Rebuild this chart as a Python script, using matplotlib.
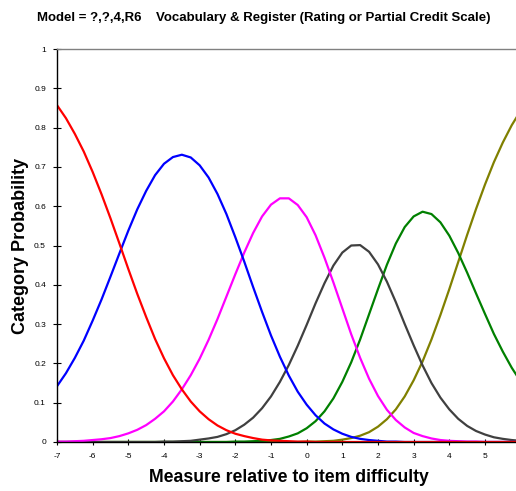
import matplotlib
matplotlib.use("Agg")
import matplotlib.pyplot as plt

plt.rcParams['font.family'] = ['Liberation Sans', 'DejaVu Sans']

## Category probability curves, every 0.25 logits
measure = [-7, -6.75, -6.5, -6.25, -6, -5.75, -5.5, -5.25, -5, -4.75, -4.5, -4.25, -4,
           -3.75, -3.5, -3.25, -3, -2.75, -2.5, -2.25, -2, -1.75, -1.5, -1.25, -1,
           -0.75, -0.5, -0.25, 0, 0.25, 0.5, 0.75, 1, 1.25, 1.5, 1.75, 2, 2.25, 2.5,
           2.75, 3, 3.25, 3.5, 3.75, 4, 4.25, 4.5, 4.75, 5, 5.25, 5.5, 5.75, 6]

cat0 = [0.857, 0.824, 0.784, 0.739, 0.687, 0.630, 0.569, 0.505, 0.440, 0.377, 0.318, 0.262, 0.213,
        0.170, 0.134, 0.103, 0.078, 0.058, 0.042, 0.030, 0.021, 0.015, 0.010, 0.006, 0.004,
        0.003, 0.002, 0.001, 0.001, 0.0, 0.0, 0.0, 0.0, 0.0, 0.0, 0.0, 0.0, 0.0, 0.0,
        0.0, 0.0, 0.0, 0.0, 0.0, 0.0, 0.0, 0.0, 0.0, 0.0, 0.0, 0.0, 0.0, 0.0]
cat1 = [0.142, 0.175, 0.214, 0.258, 0.309, 0.363, 0.421, 0.480, 0.538, 0.592, 0.639, 0.679, 0.708,
        0.725, 0.731, 0.724, 0.704, 0.673, 0.631, 0.580, 0.521, 0.459, 0.394, 0.331, 0.271,
        0.217, 0.169, 0.128, 0.095, 0.068, 0.047, 0.032, 0.021, 0.013, 0.008, 0.005, 0.003, 0.001, 0.001,
        0.0, 0.0, 0.0, 0.0, 0.0, 0.0, 0.0, 0.0, 0.0, 0.0, 0.0, 0.0, 0.0, 0.0]
cat2 = [0.001, 0.001, 0.002, 0.003, 0.005, 0.007, 0.010, 0.015, 0.022, 0.031, 0.043, 0.059, 0.078,
        0.103, 0.134, 0.170, 0.212, 0.260, 0.313, 0.370, 0.427, 0.482, 0.532, 0.574, 0.604,
        0.620, 0.620, 0.603, 0.572, 0.526, 0.469, 0.406, 0.340, 0.274, 0.214, 0.161, 0.117, 0.082, 0.056,
        0.037, 0.023, 0.015, 0.009, 0.005, 0.003, 0.002, 0.001, 0.001, 0.0, 0.0, 0.0, 0.0, 0.0]
cat3 = [0.0, 0.0, 0.0, 0.0, 0.0, 0.0, 0.0, 0.0, 0.0, 0.0, 0.0, 0.0, 0.001,
        0.001, 0.002, 0.003, 0.006, 0.009, 0.013, 0.020, 0.030, 0.044, 0.062, 0.086, 0.116,
        0.153, 0.196, 0.245, 0.298, 0.353, 0.404, 0.449, 0.482, 0.500, 0.501, 0.484, 0.452, 0.408, 0.356,
        0.300, 0.246, 0.195, 0.150, 0.113, 0.083, 0.059, 0.041, 0.028, 0.019, 0.012, 0.008, 0.005, 0.003]
cat4 = [0.0, 0.0, 0.0, 0.0, 0.0, 0.0, 0.0, 0.0, 0.0, 0.0, 0.0, 0.0, 0.0,
        0.0, 0.0, 0.0, 0.0, 0.0, 0.0, 0.0, 0.001, 0.001, 0.002, 0.003, 0.005,
        0.008, 0.014, 0.022, 0.035, 0.053, 0.078, 0.111, 0.153, 0.203, 0.261, 0.325, 0.389, 0.451, 0.505,
        0.547, 0.574, 0.586, 0.580, 0.559, 0.525, 0.481, 0.431, 0.378, 0.326, 0.275, 0.230, 0.189, 0.154]
cat5 = [0.0, 0.0, 0.0, 0.0, 0.0, 0.0, 0.0, 0.0, 0.0, 0.0, 0.0, 0.0, 0.0,
        0.0, 0.0, 0.0, 0.0, 0.0, 0.0, 0.0, 0.0, 0.0, 0.0, 0.0, 0.0,
        0.0, 0.0, 0.0, 0.001, 0.001, 0.002, 0.003, 0.006, 0.010, 0.016, 0.025, 0.039, 0.058, 0.083,
        0.116, 0.157, 0.205, 0.261, 0.323, 0.389, 0.458, 0.527, 0.593, 0.655, 0.712, 0.762, 0.806, 0.843]

curves = [cat0, cat1, cat2, cat3, cat4, cat5]
colors = ["#ff0000", "#0000ff", "#ff00ff", "#404040", "#008000", "#808000"]

x_ticks = [-7, -6, -5, -4, -3, -2, -1, 0, 1, 2, 3, 4, 5]
y_ticks = [0, 0.1, 0.2, 0.3, 0.4, 0.5, 0.6, 0.7, 0.8, 0.9, 1]
y_labels = ["0", "0.1", "0.2", "0.3", "0.4", "0.5", "0.6", "0.7", "0.8", "0.9", "1"]

fig = plt.figure(figsize=(5.16, 4.91), dpi=100)
ax = fig.add_axes([0.1105, 0.0998, 0.8895, 0.8004])

# last category first, so red ends up on top like the original
for vals, col in reversed(list(zip(curves, colors))):
    ax.plot(measure, vals, color=col, lw=1.6, solid_joinstyle="round", solid_capstyle="round")

ax.set_xlim(-7, 5.87)
ax.set_ylim(0, 1)
ax.set_xticks(x_ticks)
ax.set_xticklabels([str(t) for t in x_ticks])
ax.set_yticks(y_ticks)
ax.set_yticklabels(y_labels)
ax.tick_params(axis="both", labelsize=6, direction="inout", width=0.8, colors="black")
ax.tick_params(axis="y", length=6, pad=5)
ax.tick_params(axis="x", length=5, pad=5.5)

ax.spines["right"].set_visible(False)
ax.spines["top"].set_color("#808080")
ax.spines["top"].set_linewidth(1.0)
ax.spines["left"].set_linewidth(1.0)
ax.spines["bottom"].set_linewidth(1.0)

ax.set_xlabel("Measure relative to item difficulty", fontsize=12.7, fontweight="bold")
ax.xaxis.set_label_coords(0.505, -0.069)
ax.set_ylabel("Category Probability", fontsize=13, fontweight="bold")
ax.yaxis.set_label_coords(-0.062, 0.5)

fig.text(0.072, 0.963, "Model = ?,?,4,R6    Vocabulary & Register (Rating or Partial Credit Scale)",
         fontsize=9.5, fontweight="bold", ha="left", va="center")

fig.savefig("out.png", dpi=100)
